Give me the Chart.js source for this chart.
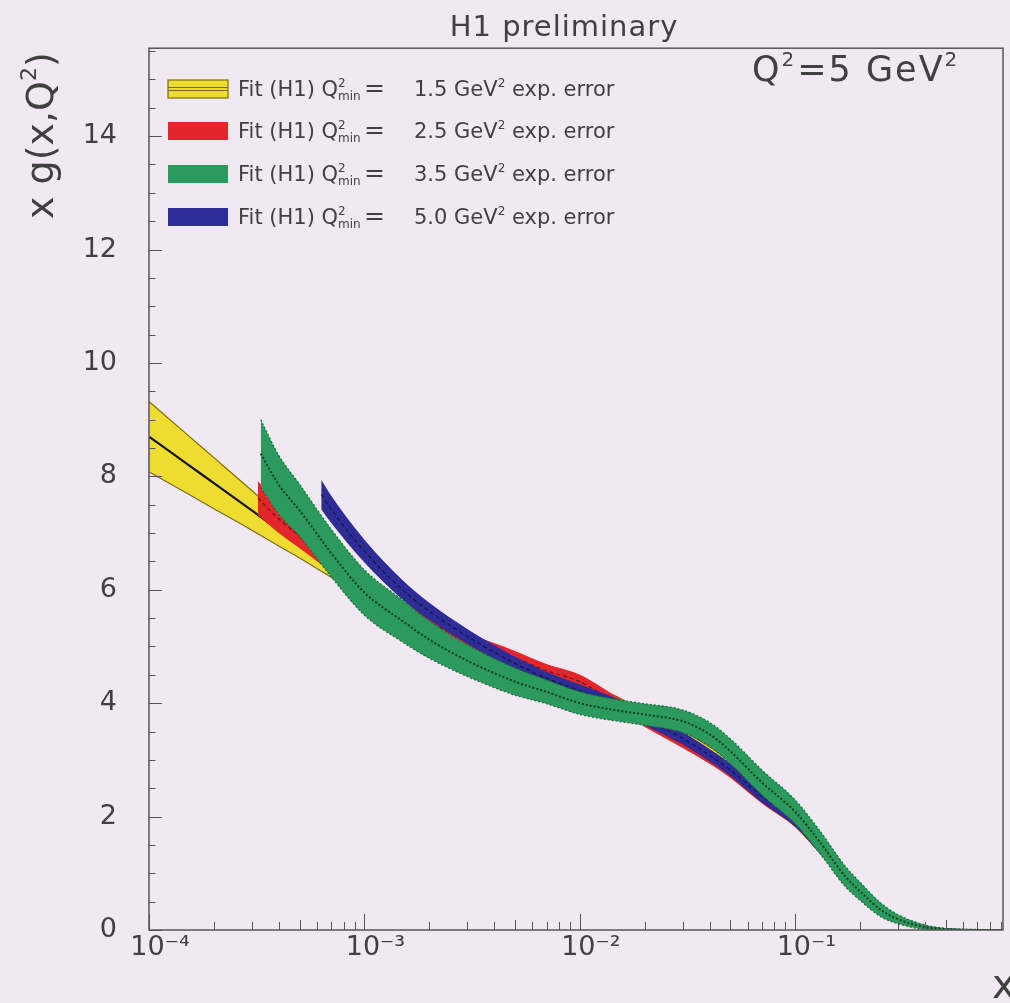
<!DOCTYPE html>
<html>
<head>
<meta charset="utf-8">
<script src="https://cdn.jsdelivr.net/npm/chart.js@4.4.1/dist/chart.umd.min.js"></script>
<style>
  html, body { margin: 0; padding: 0; background: #f1e9f2; }
  canvas { display: block; }
</style>
</head>
<body>
<canvas id="gluonChart" width="1010" height="1003"></canvas>
<script>
(function() {
  'use strict';

  // axis ticks
  var xTickValues = [1e-4, 1e-3, 1e-2, 1e-1];
  var xTickLabels = ['10\u207B\u2074', '10\u207B\u00B3', '10\u207B\u00B2', '10\u207B\u00B9'];
  var yTickValues = [0, 2, 4, 6, 8, 10, 12, 14];
  var legendQ2min = ['1.5', '2.5', '3.5', '5.0'];

  // Q2min = 1.5 GeV2 band
  var xYellow = [1e-4, 1.5e-4, 2e-4, 3e-4, 4e-4, 5e-4, 7e-4, 1e-3, 1.5e-3, 2e-3, 3e-3, 5e-3, 7e-3, 1e-2, 1.5e-2, 2e-2, 3e-2, 4e-2, 5e-2, 7e-2, 0.1, 0.13, 0.17, 0.2, 0.25, 0.3, 0.4, 0.5, 0.7, 1.0];
  var yellowHi  = [9.32, 8.74, 8.33, 7.75, 7.33, 7.04, 6.58, 6.14, 5.73, 5.44, 5.10, 4.74, 4.53, 4.33, 4.11, 3.83, 3.51, 3.23, 2.96, 2.49, 2.03, 1.56, 1.06, 0.77, 0.43, 0.24, 0.08, 0.02, 0, 0];
  var yellowMid = [8.70, 8.22, 7.88, 7.40, 7.05, 6.80, 6.40, 6.00, 5.60, 5.32, 4.98, 4.62, 4.42, 4.22, 4.00, 3.72, 3.40, 3.12, 2.85, 2.38, 1.93, 1.46, 0.97, 0.69, 0.37, 0.19, 0.05, 0.01, 0, 0];
  var yellowLo  = [8.08, 7.70, 7.43, 7.05, 6.77, 6.56, 6.22, 5.86, 5.47, 5.20, 4.86, 4.50, 4.31, 4.11, 3.89, 3.61, 3.29, 3.01, 2.74, 2.27, 1.83, 1.36, 0.88, 0.61, 0.31, 0.14, 0.02, 0, 0, 0];

  // Q2min = 2.5 GeV2 band
  var xRed = [3.2e-4, 4e-4, 5e-4, 7e-4, 1e-3, 1.5e-3, 2e-3, 3e-3, 5e-3, 7e-3, 1e-2, 1.5e-2, 2e-2, 3e-2, 4e-2, 5e-2, 7e-2, 0.1, 0.13, 0.17, 0.2, 0.25, 0.3, 0.4, 0.5, 0.7, 1.0];
  var redHi  = [7.92, 7.50, 7.17, 6.68, 6.23, 5.81, 5.54, 5.24, 4.92, 4.69, 4.50, 4.10, 3.82, 3.45, 3.17, 2.92, 2.47, 2.03, 1.55, 1.04, 0.76, 0.43, 0.24, 0.08, 0.02, 0, 0];
  var redMid = [7.62, 7.25, 6.95, 6.50, 6.08, 5.68, 5.42, 5.12, 4.80, 4.57, 4.38, 3.98, 3.70, 3.33, 3.05, 2.80, 2.35, 1.92, 1.45, 0.95, 0.68, 0.37, 0.19, 0.05, 0.01, 0, 0];
  var redLo  = [7.32, 7.00, 6.73, 6.32, 5.93, 5.55, 5.30, 5.00, 4.68, 4.45, 4.26, 3.86, 3.58, 3.21, 2.93, 2.68, 2.23, 1.81, 1.35, 0.86, 0.60, 0.31, 0.14, 0.02, 0, 0, 0];

  // Q2min = 5.0 GeV2 band
  var xBlue = [6.3e-4, 7e-4, 1e-3, 1.5e-3, 2e-3, 3e-3, 5e-3, 7e-3, 1e-2, 1.5e-2, 2e-2, 3e-2, 4e-2, 5e-2, 7e-2, 0.1, 0.13, 0.17, 0.2, 0.25, 0.3, 0.4, 0.5, 0.7, 1.0];
  var blueHi  = [7.94, 7.66, 6.88, 6.17, 5.77, 5.31, 4.82, 4.55, 4.33, 4.07, 3.83, 3.49, 3.19, 2.93, 2.47, 2.02, 1.55, 1.04, 0.76, 0.43, 0.24, 0.08, 0.02, 0, 0];
  var blueMid = [7.68, 7.42, 6.68, 6.00, 5.62, 5.18, 4.70, 4.44, 4.22, 3.96, 3.72, 3.38, 3.08, 2.82, 2.36, 1.92, 1.45, 0.95, 0.68, 0.37, 0.19, 0.05, 0.01, 0, 0];
  var blueLo  = [7.42, 7.18, 6.48, 5.83, 5.47, 5.05, 4.58, 4.33, 4.11, 3.85, 3.61, 3.27, 2.97, 2.71, 2.25, 1.82, 1.35, 0.86, 0.60, 0.31, 0.14, 0.02, 0, 0, 0];

  // Q2min = 3.5 GeV2 band
  var xGreen = [3.3e-4, 4e-4, 5e-4, 7e-4, 1e-3, 1.5e-3, 2e-3, 3e-3, 5e-3, 7e-3, 1e-2, 1.5e-2, 2e-2, 3e-2, 4e-2, 5e-2, 7e-2, 0.1, 0.13, 0.17, 0.2, 0.25, 0.3, 0.4, 0.5, 0.7, 1.0];
  var greenHi  = [9.00, 8.37, 7.86, 7.07, 6.35, 5.82, 5.45, 5.03, 4.62, 4.41, 4.20, 4.06, 3.99, 3.88, 3.66, 3.37, 2.82, 2.29, 1.75, 1.13, 0.84, 0.47, 0.27, 0.09, 0.03, 0.01, 0];
  var greenMid = [8.40, 7.85, 7.40, 6.65, 5.95, 5.45, 5.12, 4.75, 4.38, 4.20, 4.00, 3.87, 3.80, 3.68, 3.45, 3.15, 2.60, 2.08, 1.55, 0.95, 0.68, 0.35, 0.19, 0.05, 0.01, 0, 0];
  var greenLo  = [7.80, 7.33, 6.94, 6.23, 5.55, 5.08, 4.79, 4.47, 4.14, 3.99, 3.80, 3.68, 3.61, 3.48, 3.24, 2.93, 2.38, 1.87, 1.35, 0.77, 0.52, 0.23, 0.11, 0.01, 0, 0, 0];

  var bgColor = '#f1e9f2';
  var textColor = '#404040';
  var FONT = '"DejaVu Sans", sans-serif';
  var yellow = '#efdc30', red = '#e2262b', green = '#2b9a5c', blue = '#2e2c96';

  function toPoints(xs, ys) {
    return xs.map(function (x, i) { return { x: x, y: ys[i] }; });
  }

  function bandSets(xs, hi, lo, mid, st, order) {
    var common = { pointRadius: 0, cubicInterpolationMode: 'monotone' };
    return [
      Object.assign({}, common, { data: toPoints(xs, hi), fill: '+1', backgroundColor: st.fill,
        borderColor: st.edge, borderWidth: st.edgeWidth, borderDash: st.edgeDash, order: order + 1 }),
      Object.assign({}, common, { data: toPoints(xs, lo), fill: false,
        borderColor: st.edge, borderWidth: st.edgeWidth, borderDash: st.edgeDash, order: order }),
      Object.assign({}, common, { data: toPoints(xs, mid), fill: false,
        borderColor: st.mid, borderWidth: st.midWidth, borderDash: st.midDash, order: order })
    ];
  }

  var datasets = [].concat(
    bandSets(xYellow, yellowHi, yellowLo, yellowMid,
      { fill: yellow, edge: '#7d6d12', edgeWidth: 1.2, edgeDash: [], mid: '#151515', midWidth: 2.2, midDash: [] }, 7),
    bandSets(xRed, redHi, redLo, redMid,
      { fill: red, edge: 'rgba(0,0,0,0)', edgeWidth: 0, edgeDash: [], mid: '#6a1414', midWidth: 1.2, midDash: [4, 3] }, 5),
    bandSets(xBlue, blueHi, blueLo, blueMid,
      { fill: blue, edge: 'rgba(0,0,0,0)', edgeWidth: 0, edgeDash: [], mid: '#15134a', midWidth: 1.2, midDash: [4, 3] }, 3),
    bandSets(xGreen, greenHi, greenLo, greenMid,
      { fill: green, edge: '#1d6b3f', edgeWidth: 1.2, edgeDash: [2, 2], mid: '#0d3d22', midWidth: 2, midDash: [2, 2] }, 1)
  );

  // text made of pieces, for super- and subscripts; p.at gives an absolute x
  function rich(ctx, parts, x, y) {
    var cx = x;
    parts.forEach(function (p) {
      if (p.at !== undefined) cx = p.at;
      ctx.font = p.size + 'px ' + FONT;
      ctx.fillText(p.t, cx, y + (p.dy || 0));
      if (!p.stay) cx += ctx.measureText(p.t).width + (p.dx || 0);
    });
    return cx;
  }

  var decor = {
    id: 'decor',
    beforeDraw: function (chart) {
      var ctx = chart.ctx;
      ctx.save();
      ctx.fillStyle = bgColor;
      ctx.fillRect(0, 0, chart.width, chart.height);
      ctx.restore();
    },
    afterDatasetsDraw: function (chart) {
      var ctx = chart.ctx, a = chart.chartArea, xs = chart.scales.x, ys = chart.scales.y;
      ctx.save();

      // frame and inside ticks
      ctx.strokeStyle = '#555555';
      ctx.lineWidth = 1.5;
      ctx.strokeRect(a.left, a.top, a.right - a.left, a.bottom - a.top);
      ctx.lineWidth = 1;
      ctx.beginPath();
      for (var v = 0; v <= ys.max; v += 0.5) {
        var py = Math.round(ys.getPixelForValue(v)) + 0.5;
        var len = (v % 2 === 0) ? 13 : 6.5;
        ctx.moveTo(a.left, py);
        ctx.lineTo(a.left + len, py);
      }
      for (var d = -4; d < 0; d++) {
        for (var m = 1; m <= 9; m++) {
          var xv = m * Math.pow(10, d);
          if (xv > xs.max) continue;
          var px = Math.round(xs.getPixelForValue(xv)) + 0.5;
          var l = (m === 1) ? 16 : (m === 5 ? 10 : 8);
          ctx.moveTo(px, a.bottom);
          ctx.lineTo(px, a.bottom - l);
        }
      }
      ctx.stroke();

      ctx.fillStyle = textColor;
      ctx.textBaseline = 'alphabetic';

      // title
      ctx.textAlign = 'center';
      ctx.font = '29px ' + FONT;
      if ('letterSpacing' in ctx) ctx.letterSpacing = '1px';
      ctx.fillText('H1 preliminary', 564, 36);
      ctx.textAlign = 'left';

      // Q2 label
      if ('letterSpacing' in ctx) ctx.letterSpacing = '2px';
      rich(ctx, [
        { t: 'Q', size: 35 }, { t: '2', size: 20, dy: -15, dx: 1 },
        { t: '=5 GeV', size: 35 }, { t: '2', size: 20, dy: -15 }
      ], 752, 81);
      if ('letterSpacing' in ctx) ctx.letterSpacing = '0px';

      // legend
      var cols = [yellow, red, green, blue];
      var rows = [89, 131, 174, 217];
      for (var i = 0; i < 4; i++) {
        var cy = rows[i];
        ctx.fillStyle = cols[i];
        ctx.fillRect(168, cy - 9, 60, 18);
        if (i === 0) {
          ctx.strokeStyle = '#7d6d12';
          ctx.lineWidth = 1.2;
          ctx.strokeRect(168, cy - 9, 60, 18);
          ctx.beginPath();
          ctx.moveTo(168, cy - 1.5); ctx.lineTo(228, cy - 1.5);
          ctx.moveTo(168, cy + 1.5); ctx.lineTo(228, cy + 1.5);
          ctx.stroke();
        }
        ctx.fillStyle = textColor;
        rich(ctx, [
          { t: 'Fit (H1) Q', size: 21 },
          { t: '2', size: 12, dy: -9, stay: true },
          { t: 'min', size: 12, dy: 4, dx: 1 },
          { t: '=', size: 25, at: 364 },
          { t: legendQ2min[i] + ' GeV', size: 21, at: 414 },
          { t: '2', size: 12, dy: -9 },
          { t: ' exp. error', size: 21, dx: 0 }
        ], 238, cy + 7);
      }

      // axis titles
      ctx.save();
      ctx.translate(53, 219);
      ctx.rotate(-Math.PI / 2);
      rich(ctx, [
        { t: 'x g(x,Q', size: 38 }, { t: '2', size: 22, dy: -17 }, { t: ')', size: 38 }
      ], 0, 0);
      ctx.restore();
      ctx.font = '40px ' + FONT;
      ctx.fillText('x', 992, 998);

      ctx.restore();
    }
  };

  var ctx = document.getElementById('gluonChart');
  var gluonChart = new Chart(ctx, {
    type: 'line',
    data: { datasets: datasets },
    plugins: [decor],
    options: {
      responsive: false,
      animation: false,
      devicePixelRatio: 1,
      events: [],
      layout: { padding: { top: 42, right: 7, left: 0, bottom: 0 } },
      plugins: { legend: { display: false }, tooltip: { enabled: false }, title: { display: false } },
      scales: {
        x: {
          type: 'logarithmic', min: 1e-4, max: 0.92,
          afterBuildTicks: function (s) { s.ticks = xTickValues.map(function (v) { return { value: v }; }); },
          afterFit: function (s) { s.height = 73; },
          grid: { display: false, drawTicks: false }, border: { display: false },
          ticks: {
            autoSkip: false, maxRotation: 0, padding: 2, labelOffset: 11, color: textColor,
            font: { family: FONT, size: 27 },
            callback: function (v, i) { return xTickLabels[i]; }
          }
        },
        y: {
          type: 'linear', min: 0, max: 15.55,
          afterBuildTicks: function (s) { s.ticks = yTickValues.map(function (v) { return { value: v }; }); },
          afterFit: function (s) { s.width = 149; },
          grid: { display: false, drawTicks: false }, border: { display: false },
          ticks: {
            padding: 32, color: textColor,
            font: { family: FONT, size: 27 },
            callback: function (v) { return String(v); }
          }
        }
      }
    }
  });
}());
</script>
</body>
</html>
